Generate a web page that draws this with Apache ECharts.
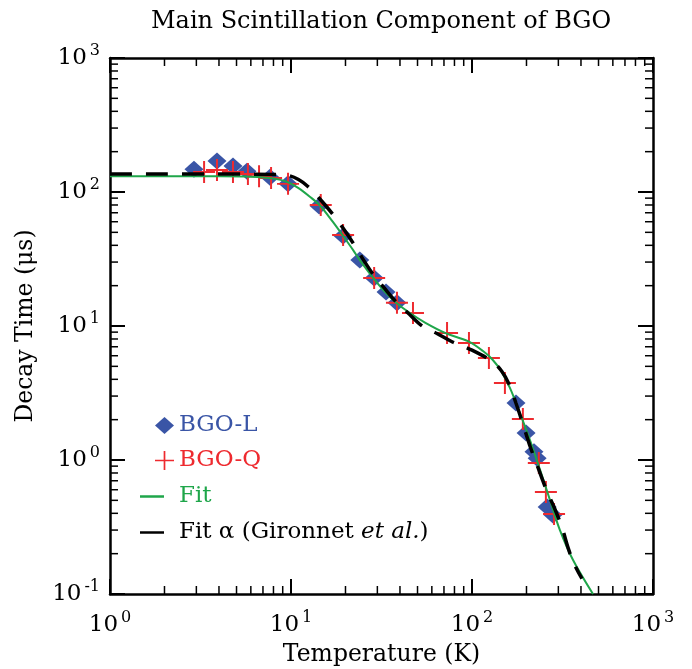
<!DOCTYPE html>
<html>
<head>
<meta charset="utf-8">
<script src="https://cdn.jsdelivr.net/npm/echarts@6/dist/echarts.min.js"></script>
<style>
  html, body { margin: 0; padding: 0; background: #fff; }
  #main { width: 692px; height: 669px; }
</style>
</head>
<body>
<div id="main"></div>
<script>
// temperature (K) and decay time (us)
var bgoLTemp = [2.91, 3.9, 4.78, 5.71, 7.65, 9.63, 14.3, 19.4, 24.0, 28.8, 33.5, 38.5, 175, 199, 220, 229, 260, 280];
var bgoLTau  = [148, 170, 156, 143, 129, 115, 78.6, 47, 31.1, 22.8, 17.9, 14.9, 2.66, 1.59, 1.15, 1.03, 0.446, 0.389];

var bgoQTemp = [3.31, 3.9, 4.78, 5.78, 6.66, 7.76, 9.63, 14.6, 19.4, 28.8, 38.5, 47.2, 72.8, 96.2, 124, 152, 191, 234, 256, 284];
var bgoQTau  = [141, 146, 141, 136, 131, 127, 115, 80, 47.8, 22.8, 14.9, 12.5, 8.87, 7.47, 5.77, 3.76, 2.02, 0.95, 0.577, 0.395];

var fitTemp = [1, 4, 6, 8, 9.5, 11, 13, 14.5, 17, 19.4, 22, 24, 28, 33, 38, 45, 55, 72, 95, 115, 130, 145, 162, 184, 209, 238, 270, 306, 361, 466];
var fitTau  = [131, 131, 130, 126, 119, 107, 90, 79, 60, 47, 37, 31, 23.5, 18, 15, 12.6, 10.6, 8.8, 7.7, 6.5, 5.6, 4.6, 3.45, 2.24, 1.41, 0.84, 0.5, 0.3, 0.18, 0.1];

var gironnetTemp = [1, 5, 8, 9.6, 11, 12.4, 14.4, 17.5, 21, 23.5, 28, 33, 38, 44, 53, 64, 78, 100, 130, 146, 160, 175, 190, 210, 230, 260, 285, 315, 340, 365, 405];
var gironnetTau  = [136, 136, 135, 133, 124, 110, 89, 65, 46, 36, 25, 19, 15.2, 12.6, 10.0, 8.8, 7.6, 6.6, 5.4, 4.6, 3.7, 2.65, 1.9, 1.25, 0.9, 0.58, 0.44, 0.31, 0.22, 0.17, 0.13];

// minor tick values for the log axes
var xMinor = [];
var yMinor = [];
[1, 10, 100].forEach(function (d) { for (var k = 2; k <= 9; k++) xMinor.push(k * d); });
[0.1, 1, 10, 100].forEach(function (d) { for (var k = 2; k <= 9; k++) yMinor.push(+(k * d).toPrecision(3)); });

function pairs(xs, ys) {
  return xs.map(function (x, i) { return [x, ys[i]]; });
}

var FONT = 'DejaVu Serif';
var BLUE = '#3a55a6';
var RED = '#ee2a2f';
var GREEN = '#1fa64a';
var CROSS = 'path://M-0.09,-1 L0.09,-1 L0.09,-0.09 L1,-0.09 L1,0.09 L0.09,0.09 L0.09,1 L-0.09,1 L-0.09,0.09 L-1,0.09 L-1,-0.09 L-0.09,-0.09 Z';

function powLabel(v) {
  var e = Math.round(Math.log10(v));
  return '{b|10}{s|' + e + '}';
}
var powRich = {
  b: { fontFamily: FONT, fontSize: 23, color: '#000', lineHeight: 30 },
  s: { fontFamily: FONT, fontSize: 16, color: '#000', verticalAlign: 'top', lineHeight: 16, padding: [0, 0, 0, 3] }
};

var dom = document.getElementById('main');
var myChart = echarts.init(dom, null, { renderer: 'canvas' });

var option = {
  animation: false,
  backgroundColor: '#fff',
  title: {
    text: 'Main Scintillation Component of BGO',
    left: 146,
    top: 5,
    textStyle: { fontFamily: FONT, fontSize: 24, fontWeight: 'normal', color: '#000' }
  },
  grid: { left: 110, right: 39, top: 58, bottom: 75, containLabel: false, outerBoundsMode: 'none' },
  legend: [
    {
      data: ['BGO-L'], orient: 'vertical', left: 150, top: 409,
      icon: 'diamond', itemWidth: 19, itemHeight: 17,
      textStyle: { fontFamily: FONT, fontSize: 23, color: BLUE }
    },
    {
      data: ['BGO-Q'], orient: 'vertical', left: 150, top: 444,
      icon: CROSS, itemWidth: 19, itemHeight: 19,
      textStyle: { fontFamily: FONT, fontSize: 23, color: RED }
    },
    {
      data: ['Fit'], orient: 'vertical', left: 135, top: 480,
      icon: 'rect', itemWidth: 24, itemHeight: 2.5,
      textStyle: { fontFamily: FONT, fontSize: 23, color: GREEN, padding: [0, 0, 0, 10] }
    },
    {
      data: ['Fit α (Gironnet et al.)'], orient: 'vertical', left: 135, top: 516,
      icon: 'rect', itemWidth: 24, itemHeight: 2.5,
      formatter: function () { return '{n|Fit α (Gironnet }{i|et al.}{n|)}'; },
      textStyle: {
        fontFamily: FONT, fontSize: 23, color: '#000', padding: [0, 0, 0, 10],
        rich: {
          n: { fontFamily: FONT, fontSize: 23, color: '#000' },
          i: { fontFamily: FONT, fontSize: 23, color: '#000', fontStyle: 'italic' }
        }
      }
    }
  ],
  xAxis: [
    {
      type: 'log', logBase: 10, min: 1, max: 1000,
      name: 'Temperature (K)', nameLocation: 'middle', nameGap: 49,
      nameTextStyle: { fontFamily: FONT, fontSize: 23.5, color: '#000' },
      axisLine: { onZero: false, lineStyle: { color: '#000', width: 2.5 } },
      axisTick: { inside: true, length: 15, lineStyle: { color: '#000', width: 2 } },
      axisLabel: { margin: 16, formatter: powLabel, rich: powRich },
      splitLine: { show: false }
    },
    {
      type: 'log', logBase: 10, min: 1, max: 1000, position: 'top',
      axisLine: { onZero: false, lineStyle: { color: '#000', width: 2.5 } },
      axisTick: { inside: true, length: 15, lineStyle: { color: '#000', width: 2 } },
      axisLabel: { show: false },
      splitLine: { show: false }
    }
  ],
  yAxis: [
    {
      type: 'log', logBase: 10, min: 0.1, max: 1000,
      name: 'Decay Time (μs)', nameLocation: 'middle', nameGap: 72,
      nameTextStyle: { fontFamily: FONT, fontSize: 23.5, color: '#000' },
      axisLine: { onZero: false, lineStyle: { color: '#000', width: 2.5 } },
      axisTick: { inside: true, length: 15, lineStyle: { color: '#000', width: 2 } },
      axisLabel: { margin: 10, formatter: powLabel, rich: powRich },
      splitLine: { show: false }
    },
    {
      type: 'log', logBase: 10, min: 0.1, max: 1000, position: 'right',
      axisLine: { onZero: false, lineStyle: { color: '#000', width: 2.5 } },
      axisTick: { inside: true, length: 15, lineStyle: { color: '#000', width: 2 } },
      axisLabel: { show: false },
      splitLine: { show: false }
    }
  ],
  series: [
    {
      name: 'BGO-L', type: 'scatter', symbol: 'diamond', symbolSize: [19, 17],
      itemStyle: { color: BLUE, opacity: 1 },
      data: pairs(bgoLTemp, bgoLTau)
    },
    {
      name: 'BGO-Q', type: 'scatter', symbol: CROSS, symbolSize: 22,
      itemStyle: { color: RED, opacity: 1 },
      data: pairs(bgoQTemp, bgoQTau)
    },
    {
      name: 'Fit', type: 'line', showSymbol: false, smooth: 0.35,
      itemStyle: { color: GREEN },
      lineStyle: { color: GREEN, width: 2 },
      data: pairs(fitTemp, fitTau)
    },
    {
      name: 'Fit α (Gironnet et al.)', type: 'line', showSymbol: false, smooth: 0.35,
      itemStyle: { color: '#000' },
      lineStyle: { color: '#000', width: 3.5, type: [22, 14], cap: 'butt' },
      data: pairs(gironnetTemp, gironnetTau)
    },
    {
      // minor ticks, x
      type: 'custom', silent: true, clip: false, z: 5,
      renderItem: function (params, api) {
        var v = api.value(0);
        var b = api.coord([v, 0.1]);
        var t = api.coord([v, 1000]);
        var st = { stroke: '#000', lineWidth: 1.5 };
        return { type: 'group', children: [
          { type: 'line', shape: { x1: b[0], y1: b[1], x2: b[0], y2: b[1] - 8 }, style: st },
          { type: 'line', shape: { x1: t[0], y1: t[1], x2: t[0], y2: t[1] + 8 }, style: st }
        ] };
      },
      data: xMinor.map(function (v) { return [v, 1]; })
    },
    {
      // minor ticks, y
      type: 'custom', silent: true, clip: false, z: 5,
      renderItem: function (params, api) {
        var v = api.value(1);
        var l = api.coord([1, v]);
        var r = api.coord([1000, v]);
        var st = { stroke: '#000', lineWidth: 1.5 };
        return { type: 'group', children: [
          { type: 'line', shape: { x1: l[0], y1: l[1], x2: l[0] + 8, y2: l[1] }, style: st },
          { type: 'line', shape: { x1: r[0], y1: r[1], x2: r[0] - 8, y2: r[1] }, style: st }
        ] };
      },
      data: yMinor.map(function (v) { return [10, v]; })
    }
  ]
};

if (option && typeof option === 'object') {
  myChart.setOption(option);
}

window.addEventListener('resize', myChart.resize);
</script>
</body>
</html>
